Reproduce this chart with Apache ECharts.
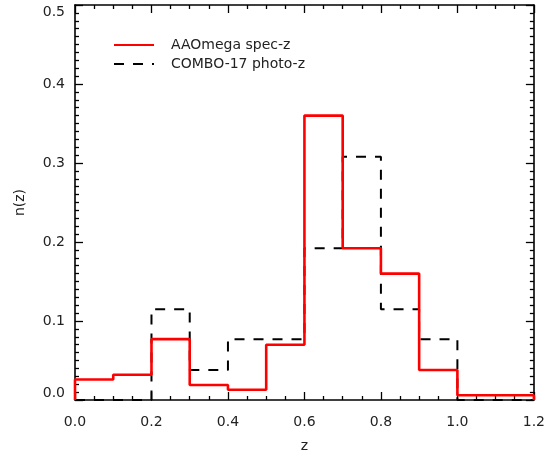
<!DOCTYPE html>
<html>
<head>
<meta charset="utf-8">
<script src="https://cdn.jsdelivr.net/npm/echarts@6/dist/echarts.min.js"></script>
<style>
html,body{margin:0;padding:0;background:#fff;}
#chart{width:548px;height:458px;}
</style>
</head>
<body>
<div id="chart"></div>
<script>
// Bin edges (z) and histogram values n(z)
var binEdges = [0.0, 0.1, 0.2, 0.3, 0.4, 0.5, 0.6, 0.7, 0.8, 0.9, 1.0, 1.1, 1.2];
var specZ  = [0.026, 0.032, 0.077, 0.019, 0.013, 0.070, 0.360, 0.192, 0.160, 0.038, 0.006, 0.006];
var photoZ = [0.000, 0.000, 0.115, 0.038, 0.077, 0.077, 0.192, 0.308, 0.115, 0.077, 0.000, 0.000];
var xTicks = [0.0, 0.2, 0.4, 0.6, 0.8, 1.0, 1.2];
var yTicks = [0.0, 0.1, 0.2, 0.3, 0.4, 0.5];
var seriesNames = ['AAOmega spec-z', 'COMBO-17 photo-z'];

function stepPoints(vals) {
  var pts = [[binEdges[0], 0]];
  for (var i = 0; i < vals.length; i++) pts.push([binEdges[i], vals[i]]);
  pts.push([binEdges[binEdges.length - 1], 0]);
  return pts;
}

var FONT = 'DejaVu Sans';
var TXT = '#222';
var chart = echarts.init(document.getElementById('chart'), null, {renderer: 'canvas'});

function xAxisCfg(pos, show) {
  return {
    type: 'value', position: pos, min: xTicks[0], max: xTicks[xTicks.length - 1], interval: 0.2,
    name: show ? 'z' : '', nameLocation: 'middle', nameGap: 39,
    nameTextStyle: {fontFamily: FONT, fontSize: 14, color: TXT},
    axisLine: {show: true, onZero: false, lineStyle: {color: '#000', width: 1.6}},
    axisTick: {show: true, inside: true, length: 8, lineStyle: {color: '#000', width: 1.3}},
    minorTick: {show: true, splitNumber: 4, length: 4, lineStyle: {color: '#000', width: 1.3}},
    axisLabel: {show: show, margin: 15, fontFamily: FONT, fontSize: 14, color: TXT,
      formatter: function (v) { return v.toFixed(1); }},
    splitLine: {show: false}
  };
}
function yAxisCfg(pos, show) {
  return {
    type: 'value', position: pos, min: yTicks[0], max: yTicks[yTicks.length - 1], interval: 0.1,
    name: show ? 'n(z)' : '', nameLocation: 'middle', nameGap: 48,
    nameTextStyle: {fontFamily: FONT, fontSize: 14, color: TXT},
    axisLine: {show: true, onZero: false, lineStyle: {color: '#000', width: 1.6}},
    axisTick: {show: true, inside: true, length: 8, lineStyle: {color: '#000', width: 1.3}},
    minorTick: {show: true, splitNumber: 10, length: 4, lineStyle: {color: '#000', width: 1.3}},
    axisLabel: {show: show, margin: 10, fontFamily: FONT, fontSize: 14, color: TXT,
      verticalAlignMinLabel: 'bottom', verticalAlignMaxLabel: 'top',
      formatter: function (v) { return v.toFixed(1); }},
    splitLine: {show: false}
  };
}

chart.setOption({
  animation: false,
  backgroundColor: '#fff',
  grid: {left: 75, right: 8, top: 5, bottom: 56, containLabel: false},
  xAxis: [xAxisCfg('bottom', true), xAxisCfg('top', false)],
  yAxis: [yAxisCfg('left', true), yAxisCfg('right', false)],
  legend: {
    show: true, left: 108, top: 33, orient: 'vertical', itemGap: 5,
    itemWidth: 40, itemHeight: 14, selectedMode: false,
    itemStyle: {opacity: 0},
    textStyle: {fontFamily: FONT, fontSize: 14, color: TXT, padding: [0, 0, 0, 12]},
    data: seriesNames
  },
  series: [
    {
      name: seriesNames[0], type: 'line', step: 'end', xAxisIndex: 0, yAxisIndex: 0,
      data: stepPoints(specZ), symbol: 'none', z: 3, color: '#ff0000',
      lineStyle: {color: '#ff0000', width: 2.6, type: 'solid'}
    },
    {
      name: seriesNames[1], type: 'line', step: 'end', xAxisIndex: 0, yAxisIndex: 0,
      data: stepPoints(photoZ), symbol: 'none', z: 2, color: '#000',
      lineStyle: {color: '#000', width: 2, type: [10, 9]}
    }
  ]
});
</script>
</body>
</html>
